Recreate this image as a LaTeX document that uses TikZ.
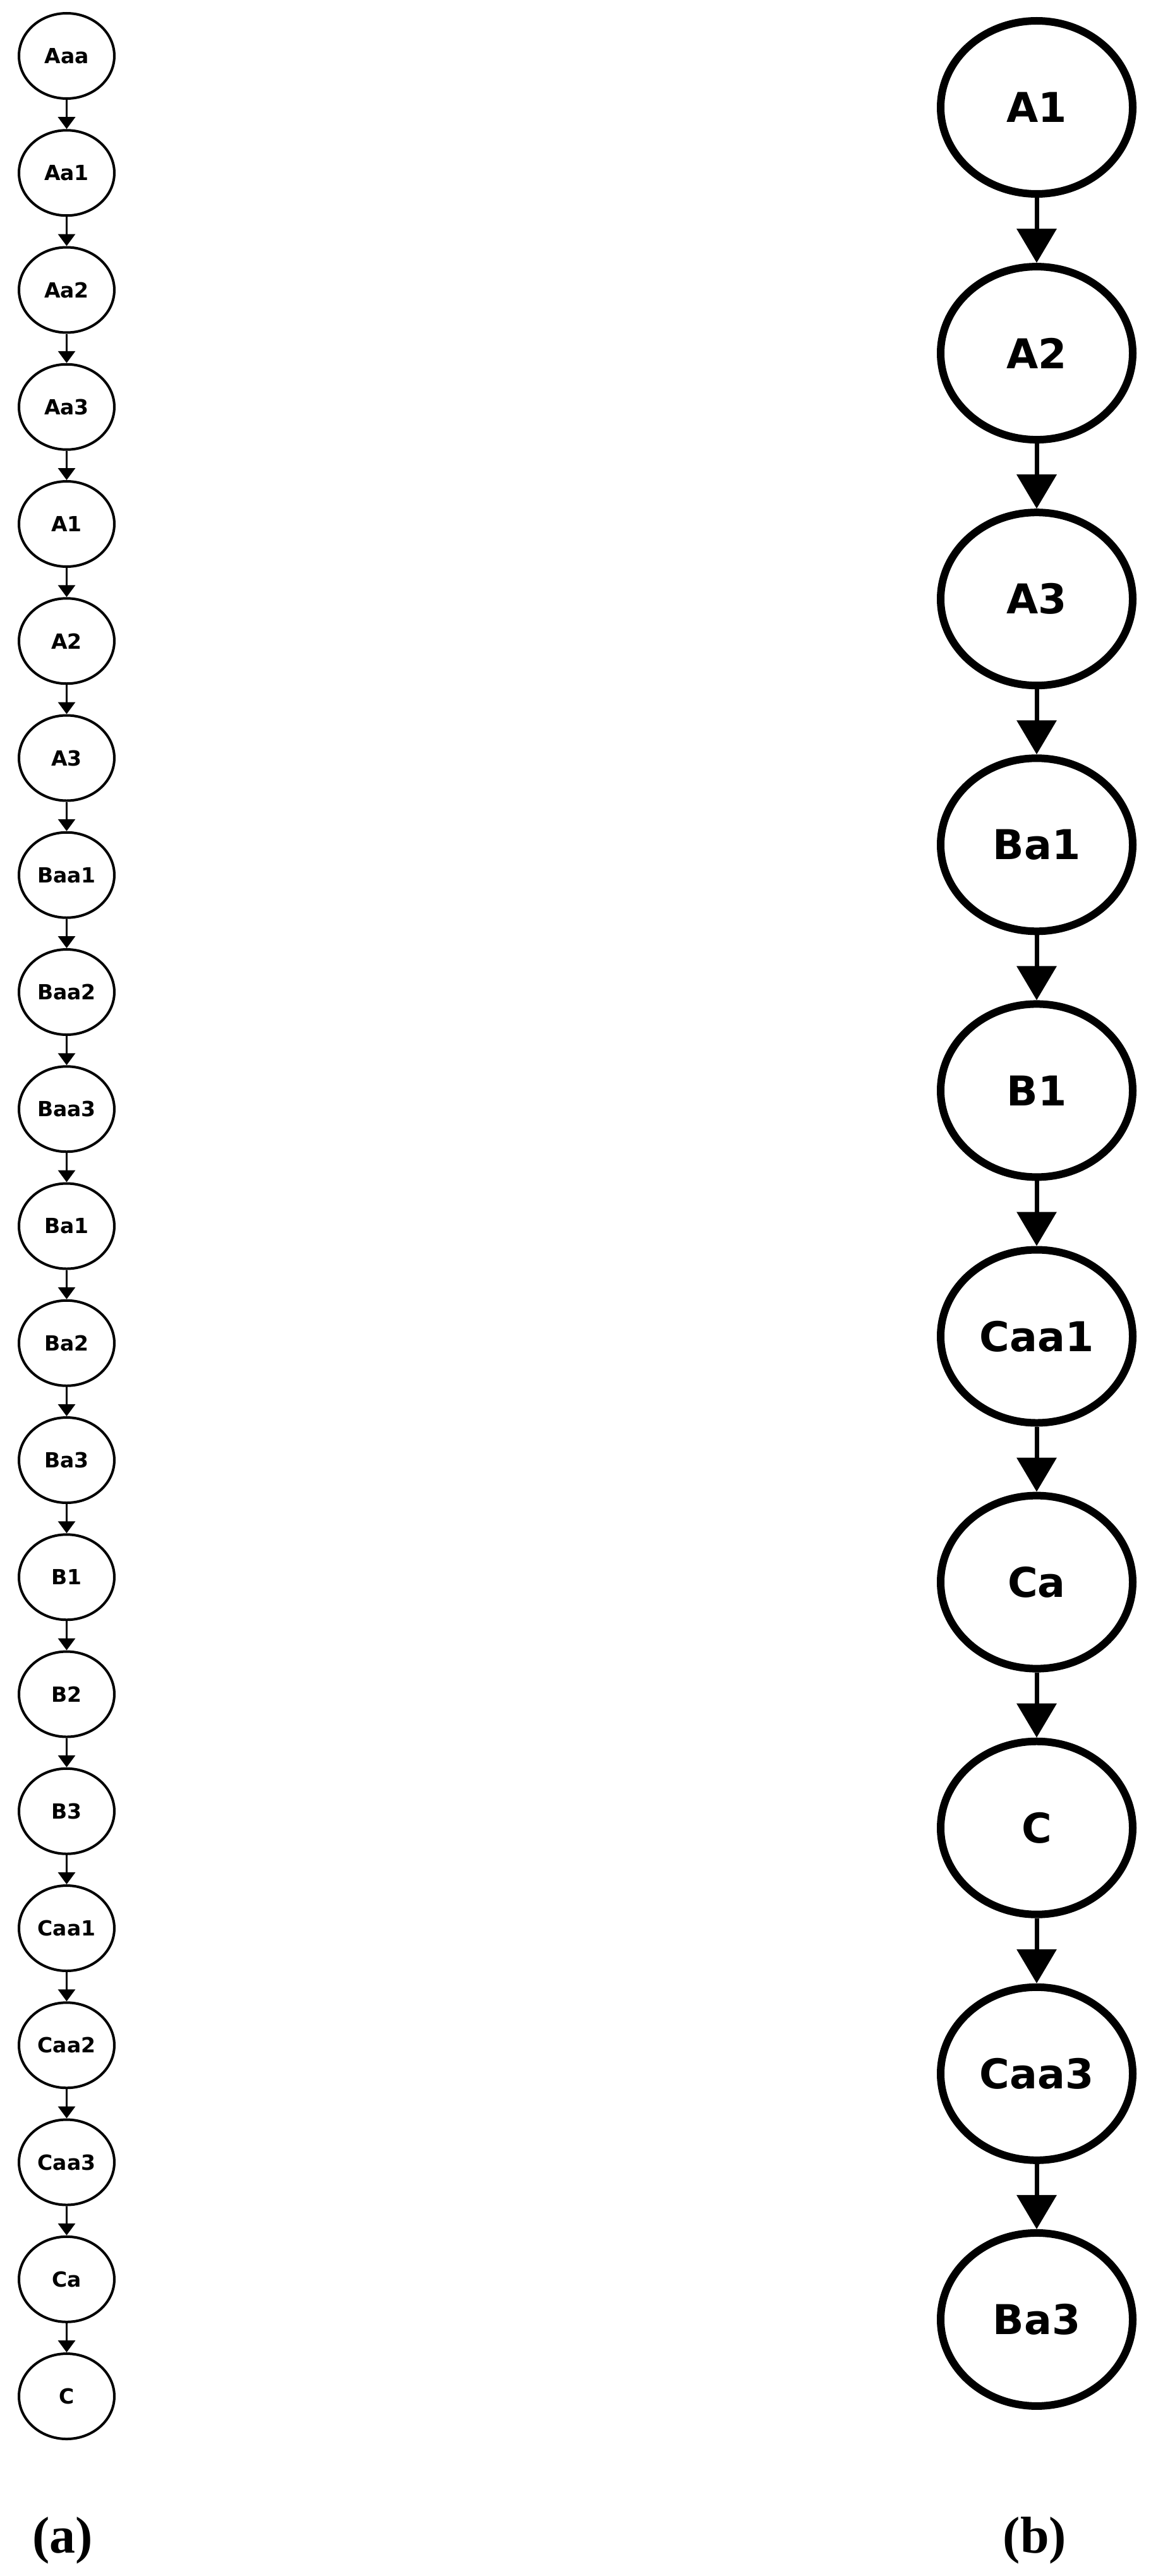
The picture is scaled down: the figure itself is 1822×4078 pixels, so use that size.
\documentclass[tikz,border=0pt]{standalone}
\usepackage{fontspec}
\newfontfamily\nodefont{DejaVu Sans}
\newfontfamily\capfont{Liberation Serif}
\usetikzlibrary{shapes.geometric,arrows.meta}
\begin{document}
\begin{tikzpicture}[x=1pt,y=-1pt,
  small/.style={ellipse,draw,line width=4pt,minimum width=151pt,minimum height=135pt,inner sep=0pt,font=\nodefont\bfseries\fontsize{33}{40}\selectfont},
  big/.style={ellipse,draw,line width=12pt,minimum width=304pt,minimum height=274pt,inner sep=0pt,font=\nodefont\bfseries\fontsize{65}{78}\selectfont},
  sarrow/.style={line width=3.5pt,-{Triangle[width=27pt,length=19pt]}},
  barrow/.style={line width=7pt,-{Triangle[width=62pt,length=54pt]}},
  sublabel/.style={font=\capfont\bfseries\fontsize{82}{98}\selectfont,anchor=base,inner sep=0pt}
]
\fill[white] (0,0) rectangle (1822,4078);
\useasboundingbox (0,0) rectangle (1822,4078);
% left column (a)
\foreach \n [count=\i from 0] in {Aaa,Aa1,Aa2,Aa3,A1,A2,A3,Baa1,Baa2,Baa3,Ba1,Ba2,Ba3,B1,B2,B3,Caa1,Caa2,Caa3,Ca,C}
  \node[small] (L\i) at (105.5,{88.5+185.25*\i}) {\n};
\foreach \i in {0,...,19}{
  \pgfmathtruncatemacro\j{\i+1}
  \draw[sarrow] (L\i) -- (L\j);
}
% right column (b)
\foreach \n [count=\i from 0] in {A1,A2,A3,Ba1,B1,Caa1,Ca,C,Caa3,Ba3}
  \node[big] (R\i) at (1641,{170+389.1*\i}) {\n};
\foreach \i in {0,...,8}{
  \pgfmathtruncatemacro\j{\i+1}
  \draw[barrow] (R\i) -- (R\j);
}
\node[sublabel] (la) at (99,4041) {(a)};
\node[sublabel] (lb) at (1638,4041) {(b)};
\end{tikzpicture}
\end{document}
